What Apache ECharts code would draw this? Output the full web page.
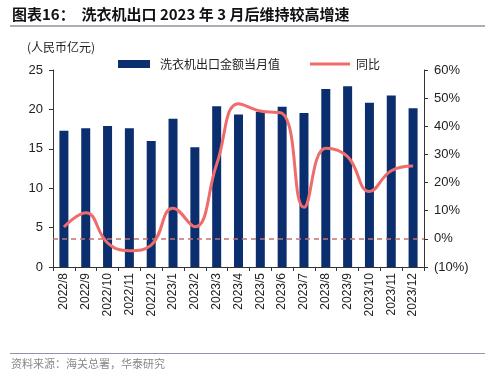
<!DOCTYPE html>
<html><head><meta charset="utf-8">
<script src="https://cdn.jsdelivr.net/npm/echarts@6/dist/echarts.min.js"></script>
<style>html,body{margin:0;padding:0;background:#fff}#c{width:500px;height:379px}</style>
</head><body><div id="c"></div>
<script>
const categories = ['2022/8','2022/9','2022/10','2022/11','2022/12','2023/1','2023/2','2023/3','2023/4','2023/5','2023/6','2023/7','2023/8','2023/9','2023/10','2023/11','2023/12'];
const exportValue = [17.3,17.6,17.9,17.6,16.0,18.8,15.2,20.4,19.35,19.7,20.35,19.55,22.6,22.95,20.85,21.75,20.15];
const yoyPct = [4.2,9.3,-1.4,-4.2,-2.2,10.9,4.3,26.5,48.0,45.4,44.6,11.2,32.2,29.2,16.8,24.2,25.9];
const leftTicks = {min:0,max:25,interval:5};
const rightTicks = {min:-10,max:60,interval:10};
const barName = '洗衣机出口金额当月值';
const lineName = '同比';

const chart = echarts.init(document.getElementById('c'));
const font = '"Liberation Sans", Arial, sans-serif';
const cjk = '"Noto Sans CJK SC", sans-serif';
chart.setOption({
  animation:false,
  textStyle:{fontFamily:font},
  grid:{left:53,right:76,top:70,bottom:112},
  legend:[
    {top:58,left:118,padding:0,itemWidth:32,itemHeight:8,itemGap:8,
     textStyle:{fontFamily:cjk,fontSize:12,color:'#222',padding:[0,0,0,5]},
     data:[{name:barName,icon:'rect',itemStyle:{color:'#0B2F6E'}}]},
    {top:58,left:310,padding:0,itemWidth:40,itemHeight:3,itemGap:8,
     textStyle:{fontFamily:cjk,fontSize:12,color:'#222',padding:[0,0,0,1]},
     data:[{name:lineName,icon:'rect',itemStyle:{color:'#F06B6B'}}]}
  ],
  xAxis:{
    type:'category',data:categories,
    axisLine:{lineStyle:{color:'#333',width:1}},
    axisTick:{show:true,length:4,lineStyle:{color:'#333'}},
    axisLabel:{rotate:90,fontSize:12,color:'#222',fontFamily:font,margin:6,interval:0}
  },
  yAxis:[
    {type:'value',min:leftTicks.min,max:leftTicks.max,interval:leftTicks.interval,
     axisLine:{show:true,lineStyle:{color:'#333'}},
     axisTick:{show:true,length:4,lineStyle:{color:'#333'}},
     splitLine:{show:false},
     axisLabel:{fontSize:13,color:'#222',margin:10}},
    {type:'value',min:rightTicks.min,max:rightTicks.max,interval:rightTicks.interval,position:'right',
     axisLine:{show:true,lineStyle:{color:'#333'}},
     axisTick:{show:true,length:4,lineStyle:{color:'#333'}},
     splitLine:{show:false},
     axisLabel:{fontSize:13,color:'#222',margin:10,
       formatter:v=> v<0 ? '('+Math.abs(v)+'%)' : v+'%'}}
  ],
  series:[
    {name:barName,type:'bar',data:exportValue,barWidth:9,itemStyle:{color:'#0B2F6E'},yAxisIndex:0},
    {name:lineName,type:'line',data:yoyPct,yAxisIndex:1,smooth:0.45,showSymbol:false,
     lineStyle:{color:'#F06B6B',width:3},itemStyle:{color:'#F06B6B'},
     markLine:{silent:true,symbol:'none',label:{show:false},
       lineStyle:{color:'#C8706F',type:[5,4],width:1.5},
       data:[{yAxis:0}]}}
  ],
  graphic:[
    {type:'text',left:12,top:7,style:{text:'图表16：  洗衣机出口 2023 年 3 月后维持较高增速',font:'bold 15px "Noto Sans CJK SC", sans-serif',fill:'#111'}},
    {type:'rect',shape:{x:10,y:25,width:475,height:2},style:{fill:'#A9AEB8'}},
    {type:'text',left:27,top:41,style:{text:'(人民币亿元)',font:'12px "Noto Sans CJK SC", sans-serif',fill:'#222'}},
    {type:'rect',shape:{x:10,y:353,width:475,height:1},style:{fill:'#8C96A8'}},
    {type:'text',left:11,top:358,style:{text:'资料来源：海关总署，华泰研究',font:'11px "Noto Sans CJK SC", sans-serif',fill:'#888'}}
  ]
});
</script></body></html>
